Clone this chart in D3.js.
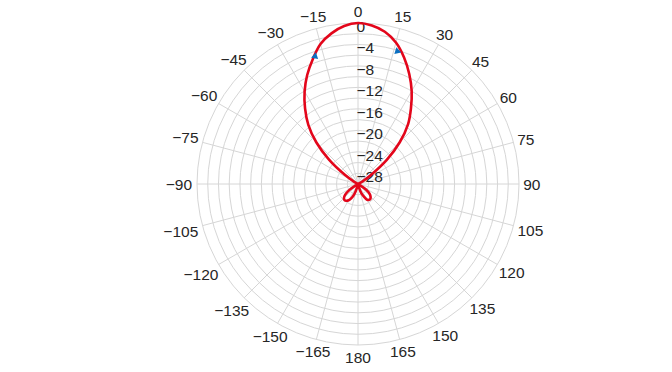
<!DOCTYPE html>
<html>
<head>
<meta charset="utf-8">
<script src="https://cdn.jsdelivr.net/npm/d3@7"></script>
<style>
  html, body { margin: 0; padding: 0; background: #ffffff; }
  svg { display: block; }
  text { font-family: "Liberation Sans", Arial, Helvetica, sans-serif; }
</style>
</head>
<body>
<div id="chart"></div>
<script>
// ---- data ----
// pattern angles (degrees, clockwise from top) and gain (dB)
const angles = [-180,-175,-170,-165,-160,-155,-150,-145,-140,-135,-130,-125,-120,-115,-110,-100,-90,-80,-70,-65,-60,-55,-50,-45,-40,-35,-30,-25,-20,-15,-10,-5,
                0,5,10,15,20,25,30,35,40,45,50,55,60,65,70,80,90,100,110,115,120,125,130,135,140,145,150,155,160,165,170,175,180];
const gainDb = [-35,-33,-30.6,-29.3,-28.0,-27.1,-26.5,-26.2,-26.1,-26.3,-26.9,-28.0,-29.5,-31,-33,-36,-38,-36,-33,-31,-29.2,-27.0,-23.0,-19.0,-15.6,-12.8,-10.1,-7.6,-5.3,-3.0,-1.5,-0.45,
                0,-0.35,-1.2,-2.7,-4.9,-7.4,-10.0,-12.8,-15.5,-19.0,-23.0,-27.0,-29.0,-31,-33,-36,-38,-36,-33,-31,-29.6,-28.2,-27.2,-26.7,-26.4,-26.4,-26.6,-27.4,-28.2,-29.4,-30.6,-33,-35];
// lobe markers
const markerAngles = [-18.6, 16.5];
const markerDb = [-4.9, -4.2];
// radial ticks (dB) and angular ticks (deg)
const ringTicks = [-28,-26,-24,-22,-20,-18,-16,-14,-12,-10,-8,-6,-4,-2,0];
const ringLabels = [0,-4,-8,-12,-16,-20,-24,-28];
const angleTicks = d3.range(0, 360, 15);
const rMin = -30, rMax = 0;

// ---- layout ----
const W = 672, H = 372;
const cx = 358, cy = 184, R = 161;
const gridColor = "#d6d6d6", textColor = "#262626";
const lineColor = "#e3061b", markerColor = "#0b6fc0";

const svg = d3.select("#chart").append("svg").attr("width", W).attr("height", H);
svg.append("rect").attr("width", W).attr("height", H).attr("fill", "#fff");
const g = svg.append("g").attr("transform", `translate(${cx},${cy})`);

const r = d3.scaleLinear().domain([rMin, rMax]).range([0, R]).clamp(true);
const toRad = d => d * Math.PI / 180;
const fmt = d3.format("d");

// rings
g.append("g").selectAll("circle").data(ringTicks).join("circle")
  .attr("r", d => r(d)).attr("fill", "none")
  .attr("stroke", gridColor).attr("stroke-width", 1);

// spokes
g.append("g").selectAll("line").data(angleTicks).join("line")
  .attr("x1", 0).attr("y1", 0)
  .attr("x2", d => r(rMax) * Math.sin(toRad(d)))
  .attr("y2", d => -r(rMax) * Math.cos(toRad(d)))
  .attr("stroke", gridColor).attr("stroke-width", 1);

// angle labels
const fs = 15.5;
const angLab = g.append("g").selectAll("text").data(angleTicks).join("text")
  .attr("font-size", fs).attr("fill", textColor)
  .attr("text-anchor", "middle").attr("dominant-baseline", "central")
  .text(d => fmt(d > 180 ? d - 360 : d));
angLab.each(function(d) {
  const w = this.getComputedTextLength();
  const s = Math.sin(toRad(d)), c = Math.cos(toRad(d));
  const rr = r(rMax) + 2.6 + 1.18 * (w / 2) * s * s + 9.4 * c * c;
  d3.select(this)
    .attr("x", rr * s)
    .attr("y", -rr * c);
});

// radial labels
g.append("g").selectAll("text").data(ringLabels).join("text")
  .attr("font-size", fs).attr("fill", textColor)
  .attr("text-anchor", "start").attr("dominant-baseline", "central")
  .attr("x", -1.5)
  .attr("y", d => -r(d) + 3.5)
  .text(d => fmt(d));

// pattern
const pts = angles.map((a, i) => ({ angle: a, db: gainDb[i] }));
const line = d3.lineRadial()
  .angle(d => toRad(d.angle))
  .radius(d => r(d.db))
  .curve(d3.curveCatmullRom.alpha(0.5));
g.append("path").datum(pts)
  .attr("d", line)
  .attr("fill", "none").attr("stroke", lineColor)
  .attr("stroke-width", 2.6).attr("stroke-linejoin", "round").attr("stroke-linecap", "round");

// markers
const mk = markerAngles.map((a, i) => ({ angle: a, db: markerDb[i] }));
g.append("g").selectAll("path").data(mk).join("path")
  .attr("d", d3.symbol(d3.symbolTriangle, 22))
  .attr("fill", markerColor)
  .attr("transform", d => {
    const rr = r(d.db);
    return `translate(${rr * Math.sin(toRad(d.angle))},${-rr * Math.cos(toRad(d.angle))}) rotate(${d.angle + (d.angle < 0 ? -90 : 90)})`;
  });
</script>
</body>
</html>
